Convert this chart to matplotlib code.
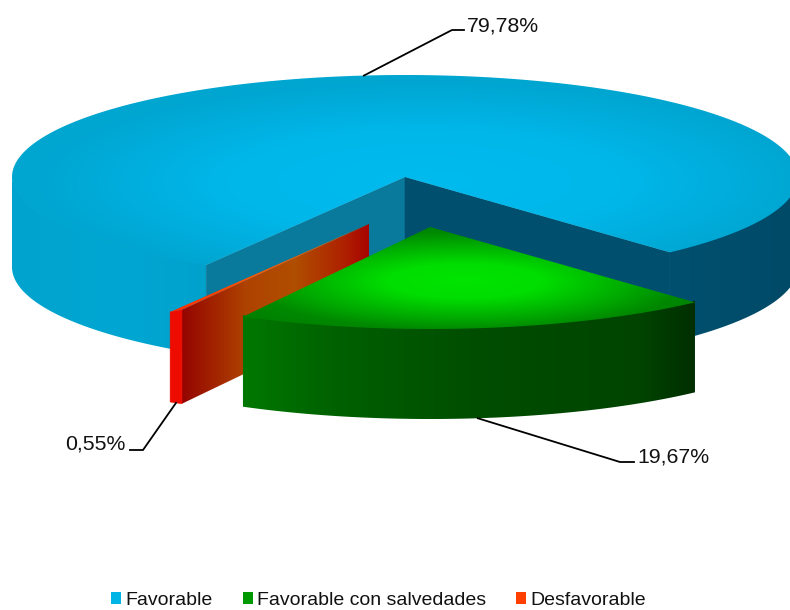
import numpy as np
import matplotlib
matplotlib.use("Agg")
import matplotlib.pyplot as plt
from matplotlib.patches import Polygon, Patch
from matplotlib.colors import to_rgb

categories = ["Favorable", "Favorable con salvedades", "Desfavorable"]
values = [79.78, 19.67, 0.55]
value_labels = ["79,78%", "19,67%", "0,55%"]
legend_colors = ["#00B4E6", "#009A00", "#FF4000"]

W, H = 790, 610
CX, CY = 405, 177
RX, RY = 393, 102
DEPTH = 90
START = 239.6
offsets = [(0, 0), (25, 50), (-36, 47)]

plt.rcParams["font.family"] = ["Liberation Sans", "DejaVu Sans"]
fig = plt.figure(figsize=(W / 100, H / 100), dpi=100)
ax = fig.add_axes([0, 0, 1, 1])
ax.set_xlim(0, W)
ax.set_ylim(H, 0)
ax.axis("off")

gx, gy = np.meshgrid(np.arange(W) + 0.5, np.arange(H) + 0.5)

# clockwise sweep from the start angle, derived from the values
sweeps = np.array(values) / sum(values) * 360
ends = START - np.cumsum(sweeps)
starts = ends + sweeps


def pt(center, t, dz=0.0):
    r = np.radians(t)
    return center[0] + RX * np.cos(r), center[1] - RY * np.sin(r) + dz


def arc(center, a, b, dz=0.0, n=160):
    ts = np.linspace(a, b, n)
    return np.column_stack(pt(center, ts, dz))


def ramp(v, stops):
    xs = [s[0] for s in stops]
    cols = np.array([to_rgb(s[1]) for s in stops])
    return np.dstack([np.interp(v, xs, cols[:, i]) for i in range(3)])


def paint(poly, rgb, z):
    p = Polygon(poly, closed=True, transform=ax.transData, fc="none", ec="none")
    ax.add_patch(p)
    im = ax.imshow(rgb, extent=(0, W, H, 0), aspect="auto", interpolation="bilinear", zorder=z)
    im.set_clip_path(p)
    ax.set_xlim(0, W)
    ax.set_ylim(H, 0)


def wall(center, a, b):
    # the upper edge runs slightly under the top face so no seam shows
    return np.vstack([arc(center, a, b, -1.5), arc(center, b, a, DEPTH)])


def solid(poly, color, z):
    ax.add_patch(Polygon(poly, closed=True, fc=color, ec=color, lw=0.4, zorder=z))


# ---- Favorable ----
c = (CX + offsets[0][0], CY + offsets[0][1])
a0, a1 = ends[0], starts[0]
paint(wall(c, 180, a1), ramp(gx, [(0, "#00A3CD"), (120, "#00A6D2"), (210, "#00A2CC")]), 1)
paint(wall(c, a0, 0), ramp(gx, [(670, "#00506F"), (790, "#004A68")]), 1)
pl = pt(c, a1)
pr = pt(c, a0)
solid([c, pl, (pl[0], pl[1] + DEPTH), (c[0], c[1] + DEPTH)], "#0A7A9C", 2)
solid([c, pr, (pr[0], pr[1] + DEPTH), (c[0], c[1] + DEPTH)], "#004F6E", 2)
top = np.vstack([[c], arc(c, a0, a1, n=400)])
rr = np.sqrt(((gx - c[0] - 20) / RX) ** 2 + ((gy - c[1] - 5) / RY) ** 2)
paint(top, ramp(rr, [(0, "#00BBEE"), (0.5, "#00B7EA"), (1.0, "#00A5D0")]), 3)

# ---- Desfavorable ----
c = (CX + offsets[2][0], CY + offsets[2][1])
a0, a1 = ends[2], starts[2]
LIFT = 4.0
p_in = pt(c, a1)
p_in = (p_in[0], p_in[1] - LIFT)
p_in_low = pt(c, a1, DEPTH)
paint([c, p_in, p_in_low, (c[0], c[1] + DEPTH)],
      ramp(gx, [(183, "#950500"), (245, "#AE4200"), (295, "#B04E00"), (345, "#AE2000"), (368, "#A80400")]), 4)
solid(np.vstack([arc(c, a0, a1, n=2)[0:1], [p_in], arc(c, a1, a0, DEPTH)]), "#EE0C00", 5)
paint([c, pt(c, a0), p_in], ramp(gx, [(170, "#FF2A00"), (260, "#FF5A00"), (368, "#E06000")]), 6)

# ---- Favorable con salvedades ----
c = (CX + offsets[1][0], CY + offsets[1][1])
a0, a1 = ends[1], starts[1]
paint(wall(c, a0, a1), ramp(gx, [(243, "#007800"), (340, "#006000"), (470, "#004E00"), (640, "#004400"), (695, "#002E00")]), 7)
rr = np.sqrt(((gx - 465) / 260) ** 2 + ((gy - 281) / 58) ** 2)
paint(np.vstack([[c], arc(c, a0, a1, n=300)]),
      ramp(rr, [(0, "#00E400"), (0.3, "#00DD00"), (0.65, "#00A800"), (0.85, "#008800"), (1.2, "#007A00")]), 8)

# ---- leader lines and value labels ----
mids = (starts + ends) / 2
anchors = [pt((CX + offsets[0][0], CY + offsets[0][1]), mids[0]),
           pt((CX + offsets[1][0], CY + offsets[1][1]), mids[1], DEPTH),
           pt((CX + offsets[2][0], CY + offsets[2][1]), mids[2], DEPTH)]
elbows = [((452, 30), (464, 30)), ((620, 462), (634, 462)), ((143, 450), (130, 450))]
text_pos = [(467, 26, "left"), (637, 457, "left"), (125, 444, "right")]
for a, e, tp, lab in zip(anchors, elbows, text_pos, value_labels):
    ax.plot([a[0], e[0][0], e[1][0]], [a[1], e[0][1], e[1][1]], color="black", lw=1.3,
            solid_joinstyle="miter", zorder=10)
    ax.text(tp[0], tp[1], lab, ha=tp[2], va="center", fontsize=15.3, color="#111111", zorder=11)

# ---- legend ----
handles = [Patch(fc=col, ec="none") for col in legend_colors]
leg = ax.legend(handles, categories, loc="lower center", bbox_to_anchor=(378.5 / W, -0.0025), ncol=3,
                frameon=False, fontsize=14.0, handlelength=0.52, handleheight=0.55, handletextpad=0.2,
                columnspacing=1.55, borderpad=0.12, borderaxespad=0)
for t in leg.get_texts():
    t.set_color("#111111")

fig.savefig("out.png", dpi=100, facecolor="white")
